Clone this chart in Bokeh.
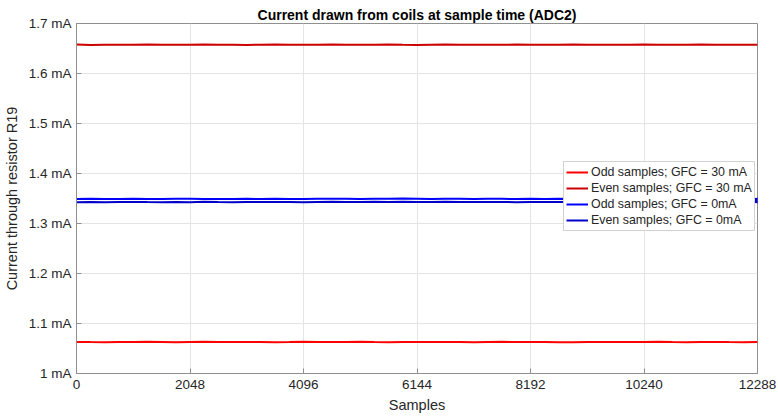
from bokeh.plotting import figure
from bokeh.embed import file_html
from bokeh.resources import INLINE
from bokeh.models import FixedTicker, CustomJSTickFormatter, Legend, LegendItem

# ---- data (one value every 256 samples) ----
samples = [i * 256 for i in range(49)]

odd_30mA = [
    1.0632, 1.0628, 1.0626, 1.0631, 1.0629, 1.0633, 1.0630,
    1.0627, 1.0631, 1.0634, 1.0629, 1.0628, 1.0632, 1.0630,
    1.0626, 1.0629, 1.0633, 1.0631, 1.0628, 1.0630, 1.0635,
    1.0629, 1.0627, 1.0631, 1.0630, 1.0628, 1.0632, 1.0629,
    1.0626, 1.0630, 1.0633, 1.0631, 1.0628, 1.0630, 1.0627,
    1.0624, 1.0629, 1.0632, 1.0630, 1.0628, 1.0631, 1.0634,
    1.0629, 1.0627, 1.0630, 1.0632, 1.0628, 1.0626, 1.0631,
]
even_30mA = [
    1.6578, 1.6571, 1.6574, 1.6577, 1.6575, 1.6580, 1.6576,
    1.6573, 1.6577, 1.6579, 1.6574, 1.6576, 1.6572, 1.6575,
    1.6578, 1.6576, 1.6573, 1.6575, 1.6579, 1.6577, 1.6574,
    1.6576, 1.6578, 1.6574, 1.6572, 1.6576, 1.6579, 1.6575,
    1.6577, 1.6574, 1.6576, 1.6578, 1.6575, 1.6573, 1.6576,
    1.6579, 1.6575, 1.6577, 1.6574, 1.6576, 1.6578, 1.6575,
    1.6573, 1.6576, 1.6578, 1.6575, 1.6577, 1.6574, 1.6576,
]
odd_0mA = [
    1.3490, 1.3494, 1.3488, 1.3492, 1.3495, 1.3491, 1.3489,
    1.3493, 1.3496, 1.3490, 1.3492, 1.3488, 1.3494, 1.3491,
    1.3495, 1.3492, 1.3489, 1.3493, 1.3497, 1.3494, 1.3491,
    1.3496, 1.3493, 1.3498, 1.3495, 1.3492, 1.3496, 1.3494,
    1.3491, 1.3495, 1.3493, 1.3490, 1.3494, 1.3492, 1.3495,
    1.3491, 1.3488, 1.3493, 1.3490, 1.3494, 1.3492, 1.3489,
    1.3493, 1.3491, 1.3495, 1.3492, 1.3490, 1.3494, 1.3492,
]
even_0mA = [
    1.3427, 1.3431, 1.3425, 1.3429, 1.3432, 1.3428, 1.3426,
    1.3430, 1.3427, 1.3433, 1.3429, 1.3426, 1.3431, 1.3428,
    1.3432, 1.3429, 1.3426, 1.3430, 1.3434, 1.3431, 1.3428,
    1.3433, 1.3430, 1.3435, 1.3432, 1.3429, 1.3433, 1.3431,
    1.3428, 1.3432, 1.3430, 1.3427, 1.3431, 1.3429, 1.3432,
    1.3428, 1.3425, 1.3430, 1.3427, 1.3431, 1.3429, 1.3426,
    1.3430, 1.3428, 1.3432, 1.3429, 1.3427, 1.3431, 1.3429,
]
series_labels = [
    "Odd samples; GFC = 30 mA",
    "Even samples; GFC = 30 mA",
    "Odd samples; GFC = 0mA",
    "Even samples; GFC = 0mA",
]
x_ticks = [0, 2048, 4096, 6144, 8192, 10240, 12288]
y_ticks = [1.0, 1.1, 1.2, 1.3, 1.4, 1.5, 1.6, 1.7]

FONT = "Liberation Sans"
TXT = "#262626"

p = figure(
    frame_width=681, frame_height=350,
    x_range=(0, 12288), y_range=(1.0, 1.7),
    output_backend="svg", toolbar_location=None,
    min_border_left=76, min_border_right=21, min_border_top=23, min_border_bottom=45,
    title="Current drawn from coils at sample time (ADC2)",
)
p.background_fill_color = "white"
p.border_fill_color = "white"
p.outline_line_color = "#8f8f8f"
p.outline_line_width = 1

p.title.align = "center"
p.title.text_font = FONT
p.title.text_font_size = "14px"
p.title.text_font_style = "bold"
p.title.text_color = "black"
p.title.standoff = 2
p.title.offset = 0

p.xaxis.ticker = FixedTicker(ticks=x_ticks)
p.yaxis.ticker = FixedTicker(ticks=y_ticks)
p.yaxis.formatter = CustomJSTickFormatter(code="return (Math.round(tick*10)/10) + ' mA';")

for ax in (p.xaxis, p.yaxis):
    ax.axis_line_color = "#8f8f8f"
    ax.major_tick_line_color = "#8f8f8f"
    ax.major_tick_in = 5
    ax.major_tick_out = 0
    ax.minor_tick_line_color = None
    ax.major_label_text_font = FONT
    ax.major_label_text_font_size = "13.5px"
    ax.major_label_text_color = TXT
    ax.axis_label_text_font = FONT
    ax.axis_label_text_font_size = "14.5px"
    ax.axis_label_text_font_style = "normal"
    ax.axis_label_text_color = TXT
p.xaxis.axis_label = "Samples"
p.yaxis.axis_label = "Current through resistor R19"
p.xaxis.major_label_standoff = 6
p.xaxis.axis_label_standoff = 5
p.yaxis.major_label_standoff = 5
p.yaxis.axis_label_standoff = 6

p.grid.grid_line_color = "#e4e4e4"
p.grid.grid_line_width = 1

colors = ["#ff0000", "#cc0000", "#0000ff", "#0000cc"]
items = []
for vals, c, lab in zip([odd_30mA, even_30mA, odd_0mA, even_0mA], colors, series_labels):
    r = p.line(samples, vals, line_color=c, line_width=2)
    items.append(LegendItem(label=lab, renderers=[r]))

# final-sample marker sticking out at the right edge
p.scatter([samples[-1]], [(odd_0mA[-1] + even_0mA[-1]) / 2], marker="asterisk",
          size=6, line_color="#0000cc", line_width=1.5)

legend = Legend(
    items=items, location=(487, 142),
    label_text_font=FONT, label_text_font_size="12.4px", label_text_color=TXT,
    glyph_width=22, glyph_height=16, label_height=16, label_standoff=3,
    spacing=0, padding=2, margin=0,
    border_line_color="#a6a6a6", border_line_width=1,
    background_fill_color="white", background_fill_alpha=1,
)
p.add_layout(legend, "center")

open("out.html", "w").write(file_html(p, INLINE))
